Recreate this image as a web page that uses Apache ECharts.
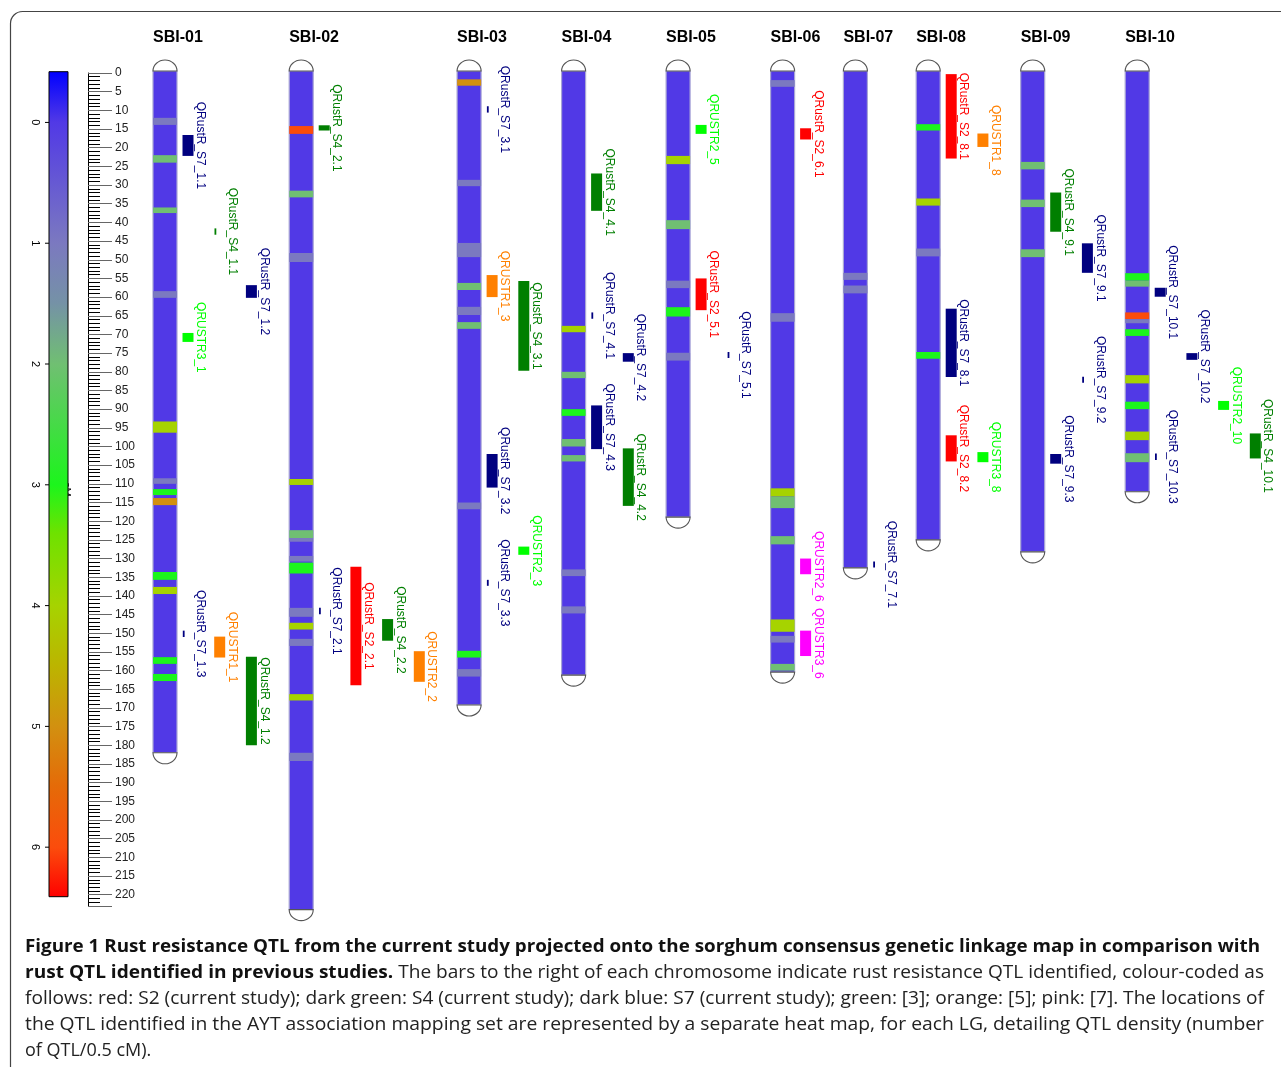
<!DOCTYPE html>
<html>
<head>
<meta charset="utf-8">
<script src="https://cdn.jsdelivr.net/npm/echarts@6/dist/echarts.min.js"></script>
<style>html,body{margin:0;padding:0;background:#fff}#c{width:1281px;height:1067px}</style>
</head>
<body>
<div id="c"></div>
<script>
// ---------------- DATA ----------------
const chromosomes = ['SBI-01','SBI-02','SBI-03','SBI-04','SBI-05','SBI-06','SBI-07','SBI-08','SBI-09','SBI-10'];
const chromLengths = [182, 224, 169.2, 161.2, 118.9, 160.4, 132.5, 125, 128.2, 112.1];
const qtlTrackCount = [3, 4, 2, 2, 2, 1, 1, 2, 2, 4];

// heat-map bands: [chromosome index, start cM, end cM, QTL density]
const densityBands = [
  [0,12.0,13.9,1],[0,22,24,2],[0,36,37.5,2],[0,58.4,60.2,1],[0,93.3,96.3,4],[0,108.5,110,1],
  [0,111.4,113,3],[0,113.8,115.7,5],[0,133.6,135.7,3],[0,137.6,139.5,4],[0,156.4,158.2,3],[0,160.9,162.8,3],
  [1,14.2,16.3,6],[1,31.5,33.3,2],[1,48.2,50.6,1],[1,108.7,110.3,4],[1,122.4,124.5,2],[1,124.5,125.5,1],
  [1,129.3,130.8,1],[1,131.1,134,3],[1,143.2,145.6,1],[1,147.2,149,4],[1,151.5,153.4,1],[1,166.3,168,4],[1,182,184.2,1],
  [2,1.7,3.4,5],[2,28.6,30.3,1],[2,45.5,49.3,1],[2,56.2,58.1,2],[2,62.6,64.8,1],[2,66.7,68.5,2],
  [2,115,116.8,1],[2,154.7,156.5,3],[2,159.6,161.6,1],
  [3,67.7,69.4,4],[3,80,81.7,2],[3,90,91.8,3],[3,98,100,2],[3,102.3,104,2],[3,132.9,134.7,1],[3,142.8,144.7,1],
  [4,22.2,24.4,4],[4,39.4,41.8,2],[4,55.6,57.6,1],[4,62.7,65.2,3],[4,74.9,77,1],
  [5,1.9,3.7,1],[5,64.3,66.6,1],[5,111.2,113.4,4],[5,113.4,116.5,2],[5,124,126.2,2],[5,146.3,149.6,4],
  [5,150.7,152.5,1],[5,158.2,160,2],
  [6,53.5,55.4,1],[6,56.9,59,1],
  [7,13.7,15.4,3],[7,33.6,35.5,4],[7,47,49.1,1],[7,74.7,76.5,3],
  [8,23.8,25.8,2],[8,33.9,35.9,2],[8,47.2,49.3,2],
  [9,53.6,55.6,3],[9,55.6,57.2,2],[9,64.1,65.9,6],[9,65.9,67,1],[9,68.6,70.4,3],[9,80.9,83.1,4],
  [9,88,90,3],[9,96,98.3,4],[9,101.8,104.2,2]
];

// QTL: [name, chromosome index, track, start cM, end cM, source, kind]
const qtls = [
  ['QRustR_S7_1.1',0,0,16.6,22.2,'S7','bar'],
  ['QRustR_S4_1.1',0,1,41.6,43.3,'S4','tick'],
  ['QRustR_S7_1.2',0,2,56.8,60.2,'S7','bar'],
  ['QRUSTR3_1',0,0,69.6,72,'R3','bar'],
  ['QRustR_S7_1.3',0,0,149.3,151.0,'S7','tick'],
  ['QRUSTR1_1',0,1,150.9,156.5,'R5','bar'],
  ['QRustR_S4_1.2',0,2,156.3,180,'S4','bar'],
  ['QRustR_S4_2.1',1,0,14,15.4,'S4','bar'],
  ['QRustR_S7_2.1',1,0,143.2,144.9,'S7','tick'],
  ['QRustR_S2_2.1',1,1,132.2,163.9,'S2','bar'],
  ['QRustR_S4_2.2',1,2,146.2,152,'S4','bar'],
  ['QRUSTR2_2',1,3,154.8,163,'R5','bar'],
  ['QRustR_S7_3.1',2,0,8.9,10.6,'S7','tick'],
  ['QRUSTR1_3',2,0,54.1,60,'R5','bar'],
  ['QRustR_S4_3.1',2,1,55.7,79.7,'S4','bar'],
  ['QRustR_S7_3.2',2,0,102,111,'S7','bar'],
  ['QRUSTR2_3',2,1,126.8,129,'R3','bar'],
  ['QRustR_S7_3.3',2,0,135.7,137.3,'S7','tick'],
  ['QRustR_S4_4.1',3,0,26.9,36.9,'S4','bar'],
  ['QRustR_S7_4.1',3,0,64.1,65.8,'S7','tick'],
  ['QRustR_S7_4.2',3,1,75,77.3,'S7','bar'],
  ['QRustR_S7_4.3',3,0,89,100.7,'S7','bar'],
  ['QRustR_S4_4.2',3,1,100.5,115.9,'S4','bar'],
  ['QRUSTR2_5',4,0,13.9,16.3,'R3','bar'],
  ['QRustR_S2_5.1',4,0,55,63.5,'S2','bar'],
  ['QRustR_S7_5.1',4,1,74.7,76.3,'S7','tick'],
  ['QRustR_S2_6.1',5,0,14.8,17.8,'S2','bar'],
  ['QRUSTR2_6',5,0,130,134.2,'R7','bar'],
  ['QRUSTR3_6',5,0,149.3,156.1,'R7','bar'],
  ['QRustR_S7_7.1',6,0,130.8,132.4,'S7','tick'],
  ['QRustR_S2_8.1',7,0,0.3,22.9,'S2','bar'],
  ['QRUSTR1_8',7,1,16.2,19.8,'R5','bar'],
  ['QRustR_S7_8.1',7,0,63.1,81.4,'S7','bar'],
  ['QRustR_S2_8.2',7,0,97,104,'S2','bar'],
  ['QRUSTR3_8',7,1,101.5,104.2,'R3','bar'],
  ['QRustR_S4_9.1',8,0,32,42.5,'S4','bar'],
  ['QRustR_S7_9.1',8,1,45.6,53.5,'S7','bar'],
  ['QRustR_S7_9.2',8,1,81.3,82.9,'S7','tick'],
  ['QRustR_S7_9.3',8,0,102,104.6,'S7','bar'],
  ['QRustR_S7_10.1',9,0,57.5,59.9,'S7','bar'],
  ['QRustR_S7_10.2',9,1,75,76.8,'S7','bar'],
  ['QRUSTR2_10',9,2,87.8,90.2,'R3','bar'],
  ['QRustR_S4_10.1',9,3,96.5,103.2,'S4','bar'],
  ['QRustR_S7_10.3',9,0,101.9,103.6,'S7','tick']
];

const densityTicks = [0, 1, 2, 3, 4, 5, 6];
const densityRange = [-0.42, 6.41];
const cmRange = [0, 223];

const captionLines = [
  [['b','Figure 1 Rust resistance QTL from the current study projected onto the sorghum consensus genetic linkage map in comparison with']],
  [['b','rust QTL identified in previous studies.'],['n',' The bars to the right of each chromosome indicate rust resistance QTL identified, colour-coded as']],
  [['n','follows: red: S2 (current study); dark green: S4 (current study); dark blue: S7 (current study); green: [3]; orange: [5]; pink: [7]. The locations of']],
  [['n','the QTL identified in the AYT association mapping set are represented by a separate heat map, for each LG, detailing QTL density (number']],
  [['n','of QTL/0.5 cM).']]
];

// ---------------- STYLE ----------------
const sourceColors = {S2:'#ff0000', S4:'#007f00', S7:'#00007f', R3:'#00ff00', R5:'#ff8000', R7:'#ff00ff'};
const densityStops = [
  [-0.42,'#0000ff'],[0,'#5139e6'],[1,'#7b79c0'],[1.5,'#7592a6'],[2,'#70bf72'],
  [3,'#1cf51c'],[3.4,'#6ee200'],[4,'#a6d300'],[4.5,'#bcb400'],[5,'#d29010'],
  [5.5,'#e56a08'],[6,'#fb4c0c'],[6.41,'#ff0000']
];
const BODY_COLOR = '#5139e6';
const LABEL_FONT = '12px "Liberation Sans", Arial, sans-serif';

function hex2rgb(h){return [parseInt(h.substr(1,2),16),parseInt(h.substr(3,2),16),parseInt(h.substr(5,2),16)];}
function densityColor(v){
  for (let i=1;i<densityStops.length;i++){
    if (v<=densityStops[i][0]){
      const a=densityStops[i-1], b=densityStops[i];
      const t=(v-a[0])/(b[0]-a[0]);
      const ca=hex2rgb(a[1]), cb=hex2rgb(b[1]);
      return 'rgb('+ca.map((c,k)=>Math.round(c+(cb[k]-c)*t)).join(',')+')';
    }
  }
  return densityStops[densityStops.length-1][1];
}

// ---------------- LAYOUT (x positions in px units) ----------------
const FIRST_CHROM_X = 165, TRACK_OFFSET = 23, TRACK_STEP = 31.7, CHROM_GAP = 49.8;
const chromCenters = [];
(function(){
  let x = FIRST_CHROM_X;
  for (let i=0;i<chromosomes.length;i++){
    chromCenters.push(x);
    x += TRACK_OFFSET + TRACK_STEP*(qtlTrackCount[i]-1) + CHROM_GAP;
  }
})();
const trackX = (c,t) => chromCenters[c] + TRACK_OFFSET + TRACK_STEP*t;

// ---------------- SERIES ----------------
const chromData = chromosomes.map((n,i)=>[chromCenters[i], 0, chromLengths[i]]);
const bandData = densityBands.map(b=>[chromCenters[b[0]], b[1], b[2], b[3]]);
const qtlData = qtls.map(q=>[trackX(q[1],q[2]), q[3], q[4]]);

const HALF_W = 12;

function renderChrom(params, api){
  const xc = api.value(0);
  const p0 = api.coord([xc, api.value(1)]);
  const p1 = api.coord([xc, api.value(2)]);
  const l = p0[0]-HALF_W, r = p0[0]+HALF_W;
  const top = p0[1]-2, bot = p1[1];
  return {type:'group', children:[
    {type:'rect', shape:{x:l, y:top, width:2*HALF_W, height:bot-top}, style:{fill:BODY_COLOR, stroke:'#a9a6d6', lineWidth:1.2}},
    {type:'path', shape:{pathData:'M'+l+' '+top+' A'+HALF_W+' 11 0 0 1 '+r+' '+top+' Z'}, style:{fill:'#fff', stroke:'#555', lineWidth:1.1}},
    {type:'path', shape:{pathData:'M'+r+' '+bot+' A'+HALF_W+' 11 0 0 1 '+l+' '+bot+' Z'}, style:{fill:'#fff', stroke:'#555', lineWidth:1.1}}
  ]};
}
function renderBand(params, api){
  const xc = api.value(0);
  const p0 = api.coord([xc, api.value(1)]);
  const p1 = api.coord([xc, api.value(2)]);
  return {type:'rect', shape:{x:p0[0]-HALF_W, y:p0[1], width:2*HALF_W, height:p1[1]-p0[1]}, style:{fill:densityColor(api.value(3))}};
}
function renderQtl(params, api){
  const q = qtls[params.dataIndex];
  const xc = api.value(0);
  const p0 = api.coord([xc, api.value(1)]);
  const p1 = api.coord([xc, api.value(2)]);
  const color = sourceColors[q[5]];
  const mark = q[6]==='bar'
    ? {type:'rect', shape:{x:p0[0]-5.5, y:p0[1], width:11, height:p1[1]-p0[1]}, style:{fill:color}}
    : {type:'rect', shape:{x:p0[0]-5.2, y:p0[1], width:1.8, height:p1[1]-p0[1]}, style:{fill:color}};
  return {type:'group', children:[mark,
    {type:'text', x:p0[0]+6.5, y:(p0[1]+p1[1])/2, rotation:-Math.PI/2,
     style:{text:q[0], fill:color, font:LABEL_FONT, align:'center', verticalAlign:'bottom'}}]};
}
function renderTitle(params, api){
  const p = api.coord([api.value(0), 0]);
  return {type:'text', x:p[0]-HALF_W, y:p[1]-35,
    style:{text:chromosomes[params.dataIndex], fill:'#000', font:'bold 16px "Liberation Sans", Arial, sans-serif', align:'left', verticalAlign:'middle'}};
}
function renderLegendBar(params, api){
  const p0 = api.coord([0, api.value(1)]);
  const p1 = api.coord([1, api.value(2)]);
  const span = densityRange[1]-densityRange[0];
  const stops = densityStops.map(s=>({offset:(s[0]-densityRange[0])/span, color:s[1]}));
  return {type:'rect', shape:{x:p0[0], y:p0[1], width:p1[0]-p0[0], height:p1[1]-p0[1]},
    style:{fill:new echarts.graphic.LinearGradient(0,0,0,1,stops), stroke:'#000', lineWidth:1}};
}
function renderLegendTick(params, api){
  const p = api.coord([0, api.value(1)]);
  return {type:'group', children:[
    {type:'line', shape:{x1:p[0]-4, y1:p[1], x2:p[0], y2:p[1]}, style:{stroke:'#000', lineWidth:1}},
    {type:'text', x:p[0]-14, y:p[1], rotation:-Math.PI/2,
     style:{text:String(densityTicks[params.dataIndex]), fill:'#000', font:'11px "Liberation Sans", Arial, sans-serif', align:'center', verticalAlign:'middle'}}
  ]};
}

// ---------------- CAPTION (graphic) ----------------
const CAP_SIZE = 18, CAP_FAMILY = '"Open Sans", "Noto Sans", sans-serif';
const measureCtx = document.createElement('canvas').getContext('2d');
function segWidth(seg){
  measureCtx.font = (seg[0]==='b'?'bold ':'') + CAP_SIZE + 'px ' + CAP_FAMILY;
  return measureCtx.measureText(seg[1]).width;
}
const CAP_LEFT = 25, CAP_RIGHT = 1264, CAP_TOP = 947, CAP_STEP = 26;
const captionGraphics = captionLines.map((line,i)=>{
  const w = line.reduce((s,seg)=>s+segWidth(seg),0);
  const justify = i < captionLines.length-1;
  const right = i === 0 ? CAP_RIGHT-4 : CAP_RIGHT;
  const sx = justify ? (right-CAP_LEFT)/w : 1;
  return {type:'text', x:CAP_LEFT, y:CAP_TOP + i*CAP_STEP, scaleX:sx, scaleY:1,
    style:{text: line.map(seg=>'{'+seg[0]+'|'+seg[1]+'}').join(''), verticalAlign:'middle', align:'left',
      rich:{b:{fontWeight:'bold', fontSize:CAP_SIZE, fontFamily:CAP_FAMILY, fill:'#111'},
            n:{fontWeight:'normal', fontSize:CAP_SIZE, fontFamily:CAP_FAMILY, fill:'#222'}}}};
});

const option = {
  animation:false,
  backgroundColor:'#fff',
  grid:[{left:0, right:0, top:73, height:(cmRange[1]-cmRange[0])*3.735},
        {left:49, top:71.7, width:19, height:825}],
  xAxis:[{type:'value', gridIndex:0, min:0, max:1281, show:false},
         {type:'value', gridIndex:1, min:0, max:1, show:false}],
  yAxis:[{type:'value', gridIndex:0, inverse:true, min:cmRange[0], max:cmRange[1], interval:5,
          position:'left', offset:-88,
          axisLine:{show:true, lineStyle:{color:'#000', width:1}},
          axisTick:{show:true, inside:true, length:24, lineStyle:{color:'#666', width:1}},
          minorTick:{show:true, splitNumber:5, length:12, lineStyle:{color:'#000', width:1}},
          axisLabel:{inside:true, margin:27, fontSize:12, color:'#222', fontFamily:'"Liberation Sans", Arial, sans-serif', showMaxLabel:false},
          splitLine:{show:false},
          name:'cM', nameLocation:'middle', nameGap:16, nameRotate:-90,
          nameTextStyle:{fontSize:11, color:'#000', fontFamily:'"Liberation Sans", Arial, sans-serif'}},
         {type:'value', gridIndex:1, inverse:true, min:densityRange[0], max:densityRange[1], show:false}],
  graphic:[
    {type:'rect', shape:{x:10.5, y:11.5, width:1300, height:1100, r:12}, style:{fill:'none', stroke:'#444', lineWidth:1.2}, z:-1},
    ...captionGraphics
  ],
  series:[
    {type:'custom', name:'legend', xAxisIndex:1, yAxisIndex:1, renderItem:renderLegendBar, data:[[0, densityRange[0], densityRange[1]]], silent:true},
    {type:'custom', name:'legendTicks', xAxisIndex:1, yAxisIndex:1, renderItem:renderLegendTick, data:densityTicks.map(v=>[0,v]), silent:true},
    {type:'custom', name:'chromosomes', xAxisIndex:0, yAxisIndex:0, renderItem:renderChrom, data:chromData, silent:true, clip:false},
    {type:'custom', name:'density', xAxisIndex:0, yAxisIndex:0, renderItem:renderBand, data:bandData, silent:true, clip:false},
    {type:'custom', name:'qtl', xAxisIndex:0, yAxisIndex:0, renderItem:renderQtl, data:qtlData, silent:true, clip:false},
    {type:'custom', name:'titles', xAxisIndex:0, yAxisIndex:0, renderItem:renderTitle, data:chromData, silent:true, clip:false}
  ]
};
const chart = echarts.init(document.getElementById('c'));
chart.setOption(option);
</script>
</body>
</html>
